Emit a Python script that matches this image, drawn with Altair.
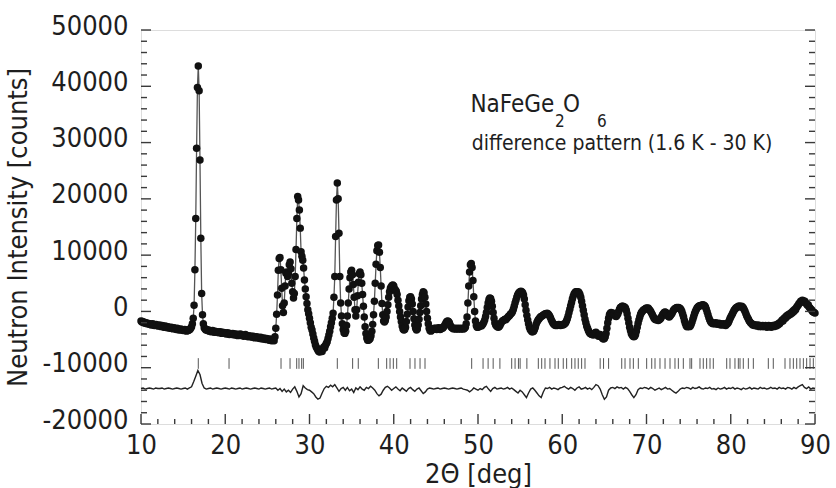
import altair as alt
import pandas as pd

# ---------------- data ----------------
# observed intensity, 2theta from 10.0 in steps of 0.1 deg
obs_10s = [
    -1700, -1900, -1800, -2000, -1900, -2100, -2000, -2200, -2100, -2200,
    -2300, -2200, -2400, -2300, -2200, -2400, -2500, -2400, -2300, -2500,
    -2600, -2500, -2400, -2600, -2700, -2500, -2600, -2800, -2700, -2600,
    -2800, -2900, -2700, -2800, -3000, -2900, -2800, -3000, -3100, -2900,
    -3000, -3100, -3200, -3000, -3100, -3300, -3200, -3100, -3300, -3200,
    -3400, -3300, -3200, -3400, -3500, -3300, -3400, -3300, -3200, -3000,
    -2700, -2200, -1200, 1100, 7400, 16500, 29000, 39800, 43600, 39200,
    26900, 13000, 3200, -600, -2200, -2900, -3100, -3300, -3200, -3400,
    -3300, -3500, -3400, -3600, -3500, -3400, -3600, -3700, -3500, -3600,
    -3700, -3600, -3800, -3700, -3600, -3800, -3900, -3700, -3800, -3900,
]
obs_20s = [
    -3800, -4000, -3900, -3800, -4000, -4100, -3900, -4000, -4100, -3900,
    -4000, -4200, -4100, -4000, -4200, -4300, -4100, -4200, -4000, -4200,
    -4300, -4200, -4400, -4300, -4100, -4300, -4400, -4500, -4300, -4400,
    -4500, -4400, -4600, -4400, -4500, -4700, -4600, -4500, -4700, -4600,
    -4700, -4800, -4600, -4700, -4900, -4800, -4700, -4900, -5000, -4800,
    -4900, -5000, -5100, -4900, -5000, -5200, -5100, -5000, -5200, -4500,
    -3000, -500, 2900, 7300, 9400, 9600, 7400, 4100, 1000, -200,
    1500, 4500, 6800, 7000, 6200, 6800, 8300, 8800, 7600, 5000,
    3500, 2400, 3200, 6200, 11000, 16500, 20400, 19800, 18000, 14800,
    10600, 9800, 9100, 7700, 5600, 4000, 2600, 1400, 300, -400,
]
obs_30s = [
    -1200, -2000, -2800, -3300, -4000, -4700, -5300, -5900, -6300, -6600,
    -6900, -7100, -7200, -7000, -6800, -7100, -6600, -6300, -6500, -6000,
    -5700, -5400, -4800, -4200, -3500, -2700, -2000, -1200, -300, 2500,
    6200, 13300, 19800, 22800, 20000, 13900, 6200, 1500, -800, -2200,
    -3200, -3800, -3900, -3500, -2500, -800, 1500, 4000, 6000, 7000,
    7300, 6500, 4800, 2500, 300, -800, 300, 2800, 5200, 6700,
    7000, 6500, 5000, 3000, 900, -1000, -2700, -3900, -4700, -5100,
    -5100, -5000, -4800, -4300, -3500, -2300, -600, 1800, 5000, 8400,
    10800, 11700, 11800, 10500, 7800, 4500, 1400, -600, -1700, -1900,
    -1600, -1000, 0, 1200, 2500, 3500, 4100, 4400, 4600, 4700,
]
obs_40s = [
    4500, 4000, 3800, 3600, 3000, 2000, 1000, 0, -1000, -1800,
    -2600, -3100, -3300, -3200, -2800, -1800, -500, 800, 1900, 2500,
    2600, 2200, 1300, 0, -1300, -2400, -3000, -3300, -3100, -2400,
    -1400, -200, 1000, 2200, 3000, 3500, 3300, 2500, 1300, 0,
    -1200, -2200, -3000, -3400, -3500, -3300, -3100, -3200, -3000, -3100,
    -3000, -3200, -3100, -2900, -3000, -3200, -3100, -2900, -3000, -2800,
    -2600, -2300, -2000, -1800, -1700, -1800, -2000, -2400, -2700, -2900,
    -3000, -3100, -3000, -3100, -3100, -3000, -3100, -3100, -3000, -3100,
    -3100, -3000, -3100, -3100, -3000, -2800, -2200, -1000, 1500, 4500,
    7000, 8300, 8500, 7800, 5500, 2600, 0, -1700, -2500, -2800,
]
obs_50s = [
    -2800, -2700, -2600, -2500, -2600, -2400, -2200, -1900, -1500, -900,
    -200, 700, 1500, 2100, 2400, 2300, 1800, 900, -200, -1200,
    -2000, -2400, -2600, -2700, -2800, -2700, -2500, -2200, -1900, -1700,
    -1600, -1500, -1400, -1500, -1300, -1100, -900, -800, -600, -400,
    -300, 0, 400, 900, 1500, 2000, 2500, 2900, 3200, 3400,
    3500, 3600, 3500, 3300, 2900, 2200, 1200, 200, -700, -1500,
    -2200, -2800, -3200, -3400, -3600, -3600, -3500, -3200, -2800, -2300,
    -1900, -1600, -1400, -1200, -1000, -900, -800, -700, -600, -500,
    -400, -400, -300, -400, -600, -800, -1100, -1500, -1800, -2100,
    -2300, -2400, -2500, -2400, -2500, -2400, -2300, -2400, -2500, -2400,
]
obs_60s = [
    -2300, -2400, -2300, -2200, -2000, -1700, -1300, -800, -200, 400,
    1000, 1600, 2200, 2700, 3100, 3300, 3500, 3500, 3400, 3500,
    3300, 3000, 2500, 1800, 1000, 200, -600, -1400, -2000, -2600,
    -3000, -3400, -3700, -3900, -4000, -4100, -4000, -4200, -4000, -3800,
    -3700, -3900, -4200, -4400, -4300, -4100, -4300, -4600, -4800, -4900,
    -4800, -4500, -3900, -3000, -2000, -1200, -600, -300, -200, -300,
    -400, -300, -500, -800, -900, -700, -400, 0, 400, 700,
    800, 900, 900, 800, 800, 600, 200, -400, -1200, -2000,
    -2800, -3400, -3900, -4200, -4400, -4500, -4400, -4100, -3500, -2800,
    -2100, -1500, -1000, -500, -200, 0, 200, 300, 400, 500,
]
obs_70s = [
    600, 500, 600, 400, 200, 0, -300, -600, -900, -1200,
    -1400, -1500, -1500, -1400, -1600, -1500, -1400, -1200, -900, -600,
    -400, -200, -100, -200, -400, -700, -900, -1000, -800, -600,
    -400, -100, 200, 400, 500, 600, 700, 600, 700, 600,
    500, 300, 0, -500, -1000, -1600, -2100, -2500, -2700, -2700,
    -2600, -2700, -2600, -2300, -1900, -1400, -900, -400, 0, 300,
    600, 800, 900, 1000, 1000, 1100, 1100, 1200, 1100, 1000,
    800, 400, -100, -600, -1100, -1500, -1800, -2000, -2100, -2200,
    -2100, -2200, -2000, -2100, -2300, -2200, -2100, -2300, -2400, -2200,
    -2300, -2400, -2200, -2300, -2500, -2300, -2200, -2000, -1700, -1300,
]
obs_80s = [
    -1000, -700, -400, -100, 200, 400, 600, 700, 800, 900,
    900, 900, 800, 900, 800, 600, 300, 0, -400, -800,
    -1100, -1400, -1700, -1900, -2100, -2200, -2400, -2300, -2500, -2400,
    -2500, -2600, -2400, -2500, -2700, -2500, -2600, -2700, -2500, -2600,
    -2700, -2500, -2600, -2800, -2600, -2500, -2700, -2600, -2800, -2600,
    -2500, -2700, -2600, -2400, -2600, -2300, -2400, -2100, -2200, -1900,
    -1800, -1500, -1700, -1300, -1100, -1200, -800, -900, -600, -700,
    -400, -500, -200, -300, 100, 0, 400, 300, 700, 900,
    1100, 1400, 1500, 1800, 1700, 2000, 1900, 1700, 1800, 1500,
    1300, 1100, 1200, 800, 600, 400, 300, 0, -100, -200,
    -300,
]

# difference curve, 2theta from 10.0 in steps of 0.25 deg
diff_10s = [
    -13700, -13600, -13800, -13700, -13600, -13700, -13800, -13600, -13700, -13700,
    -13600, -13800, -13700, -13600, -13700, -13800, -13700, -13600, -13700, -13800,
    -13700, -13600, -13800, -13600, -13400, -12500, -11500, -10500, -11200, -12800,
    -13600, -13800, -13700, -13600, -13800, -13700, -13600, -13700, -13800, -13700,
]
diff_20s = [
    -13600, -13700, -13800, -13600, -13700, -13800, -13700, -13600, -13800, -13700,
    -13600, -13700, -13800, -13700, -13600, -13700, -13800, -13600, -13700, -13800,
    -13700, -13600, -13800, -13700, -13600, -14000, -13700, -14200, -13800, -14300,
    -14000, -14400, -13800, -13400, -14200, -15200, -14600, -13200, -13600, -13900,
]
diff_30s = [
    -14000, -14300, -14600, -15200, -15600, -15400, -14500, -13700, -13300, -13500,
    -13100, -13400, -13000, -13600, -14200, -13700, -13500, -14000, -13500, -14100,
    -13800, -14400, -13600, -13900, -13400, -13800, -14000, -13500, -13700, -13300,
    -13600, -14000, -14600, -15000, -14700, -14000, -13500, -13300, -13600, -14000,
]
diff_40s = [
    -13700, -13400, -13800, -14100, -13600, -13900, -14200, -13700, -13500, -13900,
    -14200, -13800, -13600, -14100, -14600, -14300, -13800, -13600, -13700, -13800,
    -13700, -13600, -13800, -13700, -13600, -13700, -13800, -13700, -13600, -13700,
    -13800, -13700, -13600, -13800, -13900, -14000, -14300, -14000, -13600, -13800,
]
diff_50s = [
    -14000, -13700, -13900, -13500, -13300, -13800, -14200, -13700, -13500, -13800,
    -13700, -13600, -13800, -13700, -13500, -13800, -13600, -13900, -14200, -14500,
    -14000, -14300, -14800, -15300, -14500, -13800, -13600, -14000, -14500, -15000,
    -15300, -14300, -13600, -13700, -13500, -13800, -13600, -13700, -13900, -13600,
]
diff_60s = [
    -13500, -13300, -13600, -13800, -13500, -13700, -14000, -13600, -13400, -13800,
    -13700, -13500, -13800, -13600, -13900, -13500, -13000, -13200, -13800, -14800,
    -15600, -15200, -14000, -13600, -13500, -13700, -13400, -13600, -13500, -13800,
    -13500, -13700, -14200, -14800, -15300, -14800, -13900, -13600, -13700, -13500,
]
diff_70s = [
    -13600, -13800, -13500, -13700, -14000, -13800, -13600, -13900, -13700, -13500,
    -13800, -13700, -14000, -14300, -14500, -14200, -13800, -13600, -13700, -13500,
    -13600, -13800, -13500, -13700, -13600, -13400, -13700, -13800, -13600, -13700,
    -13500, -13800, -13700, -13900, -13600, -13800, -13700, -13500, -13800, -13600,
]
diff_80s = [
    -13700, -13500, -13800, -13600, -13700, -13900, -13600, -13800, -13700, -13500,
    -13800, -13600, -13700, -13800, -13500, -13700, -13600, -13800, -13700, -13500,
    -13700, -13600, -13800, -13500, -13700, -13600, -13800, -13500, -13600, -13800,
    -13500, -13700, -13400, -13200, -13000, -13500, -13700, -13400, -13800, -13600,
    -13700,
]

# Bragg reflection positions (2theta, deg)
bragg_positions = [
    16.8, 20.45, 26.62, 27.69, 28.48, 28.75, 29.07, 29.27, 33.3, 35.12, 35.79,
    38.17, 39.16, 39.56, 39.95, 40.35, 41.93, 42.52, 43.12, 43.71, 49.25,
    50.6, 51.2, 51.8, 52.6, 54.0, 54.4, 54.8, 55.0, 55.8,
    57.16, 57.56, 57.95, 58.54, 59.14, 59.53, 60.12, 60.52, 61.12, 61.51,
    61.9, 62.3, 62.7, 64.5, 64.9, 65.5,
    67.06, 67.45, 68.04, 68.44, 69.03, 70.02, 70.62, 71.01, 71.6, 72.2,
    72.79, 73.38, 73.78, 74.37, 75.16, 75.36, 76.35, 76.74, 77.14, 77.54,
    77.93, 79.52, 79.91, 80.5, 80.9, 81.1, 81.49, 82.09, 82.68, 84.46, 85.05,
    86.44, 87.03, 87.43, 87.83, 88.22, 88.62, 89.01, 89.41, 89.8,
]

x_tick_labels = [10, 20, 30, 40, 50, 60, 70, 80, 90]
x_minor_ticks = [12, 14, 16, 18, 22, 24, 26, 28, 32, 34, 36, 38, 42, 44, 46, 48,
                 52, 54, 56, 58, 62, 64, 66, 68, 72, 74, 76, 78, 82, 84, 86, 88]
y_tick_labels = [-20000, -10000, 0, 10000, 20000, 30000, 40000, 50000]
y_minor_ticks = [v for v in range(-18000, 50000, 2000) if v % 10000 != 0]

# ---------------- tables ----------------
observed = obs_10s + obs_20s + obs_30s + obs_40s + obs_50s + obs_60s + obs_70s + obs_80s
difference = diff_10s + diff_20s + diff_30s + diff_40s + diff_50s + diff_60s + diff_70s + diff_80s

obs_df = pd.DataFrame({"tt": [round(10 + 0.1 * i, 2) for i in range(len(observed))],
                       "counts": observed})
diff_df = pd.DataFrame({"tt": [round(10 + 0.25 * i, 2) for i in range(len(difference))],
                        "counts": difference})
bragg_df = pd.DataFrame({"tt": bragg_positions})

FONT = "DejaVu Sans Condensed"
INK = "#1e1e1e"
FRAME = "#3a3a3a"
W, H = 674, 394

xs = alt.Scale(domain=[10, 90], nice=False, zero=False)
ys = alt.Scale(domain=[-20000, 50000], nice=False, zero=False)

x_axis = alt.Axis(values=x_tick_labels, title="2Θ [deg]", grid=False, ticks=False,
                  domain=False, labelFontSize=27, titleFontSize=27, labelPadding=8,
                  titlePadding=3, labelColor=INK, titleColor=INK, labelFont=FONT,
                  titleFont=FONT, titleFontWeight="normal", labelFlush=False)
y_axis = alt.Axis(values=y_tick_labels, title="Neutron Intensity [counts]", grid=False,
                  ticks=False, domain=False, labelFontSize=27, titleFontSize=27,
                  labelPadding=13, titlePadding=9, labelColor=INK, titleColor=INK,
                  labelFont=FONT, titleFont=FONT, titleFontWeight="normal",
                  labelExpr="'' + datum.value", labelOffset=-4, labelFlush=False)

points = alt.Chart(obs_df).mark_circle(size=56, color="#111111", opacity=1).encode(
    x=alt.X("tt:Q", scale=xs, axis=x_axis),
    y=alt.Y("counts:Q", scale=ys, axis=y_axis),
)
calc_line = alt.Chart(obs_df).mark_line(color="#555555", strokeWidth=1.3).encode(
    x=alt.X("tt:Q", scale=xs), y=alt.Y("counts:Q", scale=ys))
diff_line = alt.Chart(diff_df).mark_line(color="#222222", strokeWidth=1.4).encode(
    x=alt.X("tt:Q", scale=xs), y=alt.Y("counts:Q", scale=ys))
bragg = alt.Chart(bragg_df).mark_rule(color="#555555", strokeWidth=1).encode(
    x=alt.X("tt:Q", scale=xs), y=alt.datum(-8300), y2=alt.datum(-10200))


def yticks(vals, length, right):
    x0 = W if right else 0
    x1 = W - length if right else length
    return alt.Chart(pd.DataFrame({"v": vals})).mark_rule(color=FRAME, strokeWidth=1.4).encode(
        y=alt.Y("v:Q", scale=ys), x=alt.value(x0), x2=alt.value(x1))


def xticks(vals, length):
    return alt.Chart(pd.DataFrame({"v": vals})).mark_rule(color=FRAME, strokeWidth=1.4).encode(
        x=alt.X("v:Q", scale=xs), y=alt.value(H), y2=alt.value(H - length))


def label(txt, x, y, size):
    return alt.Chart(pd.DataFrame({"a": [0]})).mark_text(
        align="left", baseline="alphabetic", font=FONT, fontSize=size, color=INK
    ).encode(x=alt.datum(x), y=alt.datum(y), text=alt.value(txt))


chart = alt.layer(
    calc_line, points, diff_line, bragg,
    yticks(y_tick_labels, 10, False), yticks(y_minor_ticks, 6, False),
    yticks(y_tick_labels, 10, True), yticks(y_minor_ticks, 6, True),
    xticks(x_tick_labels, 10), xticks(x_minor_ticks, 5),
    label("NaFeGe", 49.1, 35480, 24),
    label("2", 59.14, 32700, 17),
    label("O", 60.09, 35480, 24),
    label("6", 64.12, 32700, 17),
    label("difference pattern (1.6 K - 30 K)", 49.25, 28680, 21),
).properties(
    width=W, height=H,
    autosize=alt.AutoSizeParams(type="none"),
    padding={"left": 141, "top": 30, "right": 21, "bottom": 64},
).configure_view(stroke=FRAME, strokeWidth=1.6).configure(background="white")

chart.save("out.html", embed_options={"renderer": "svg", "actions": False})
